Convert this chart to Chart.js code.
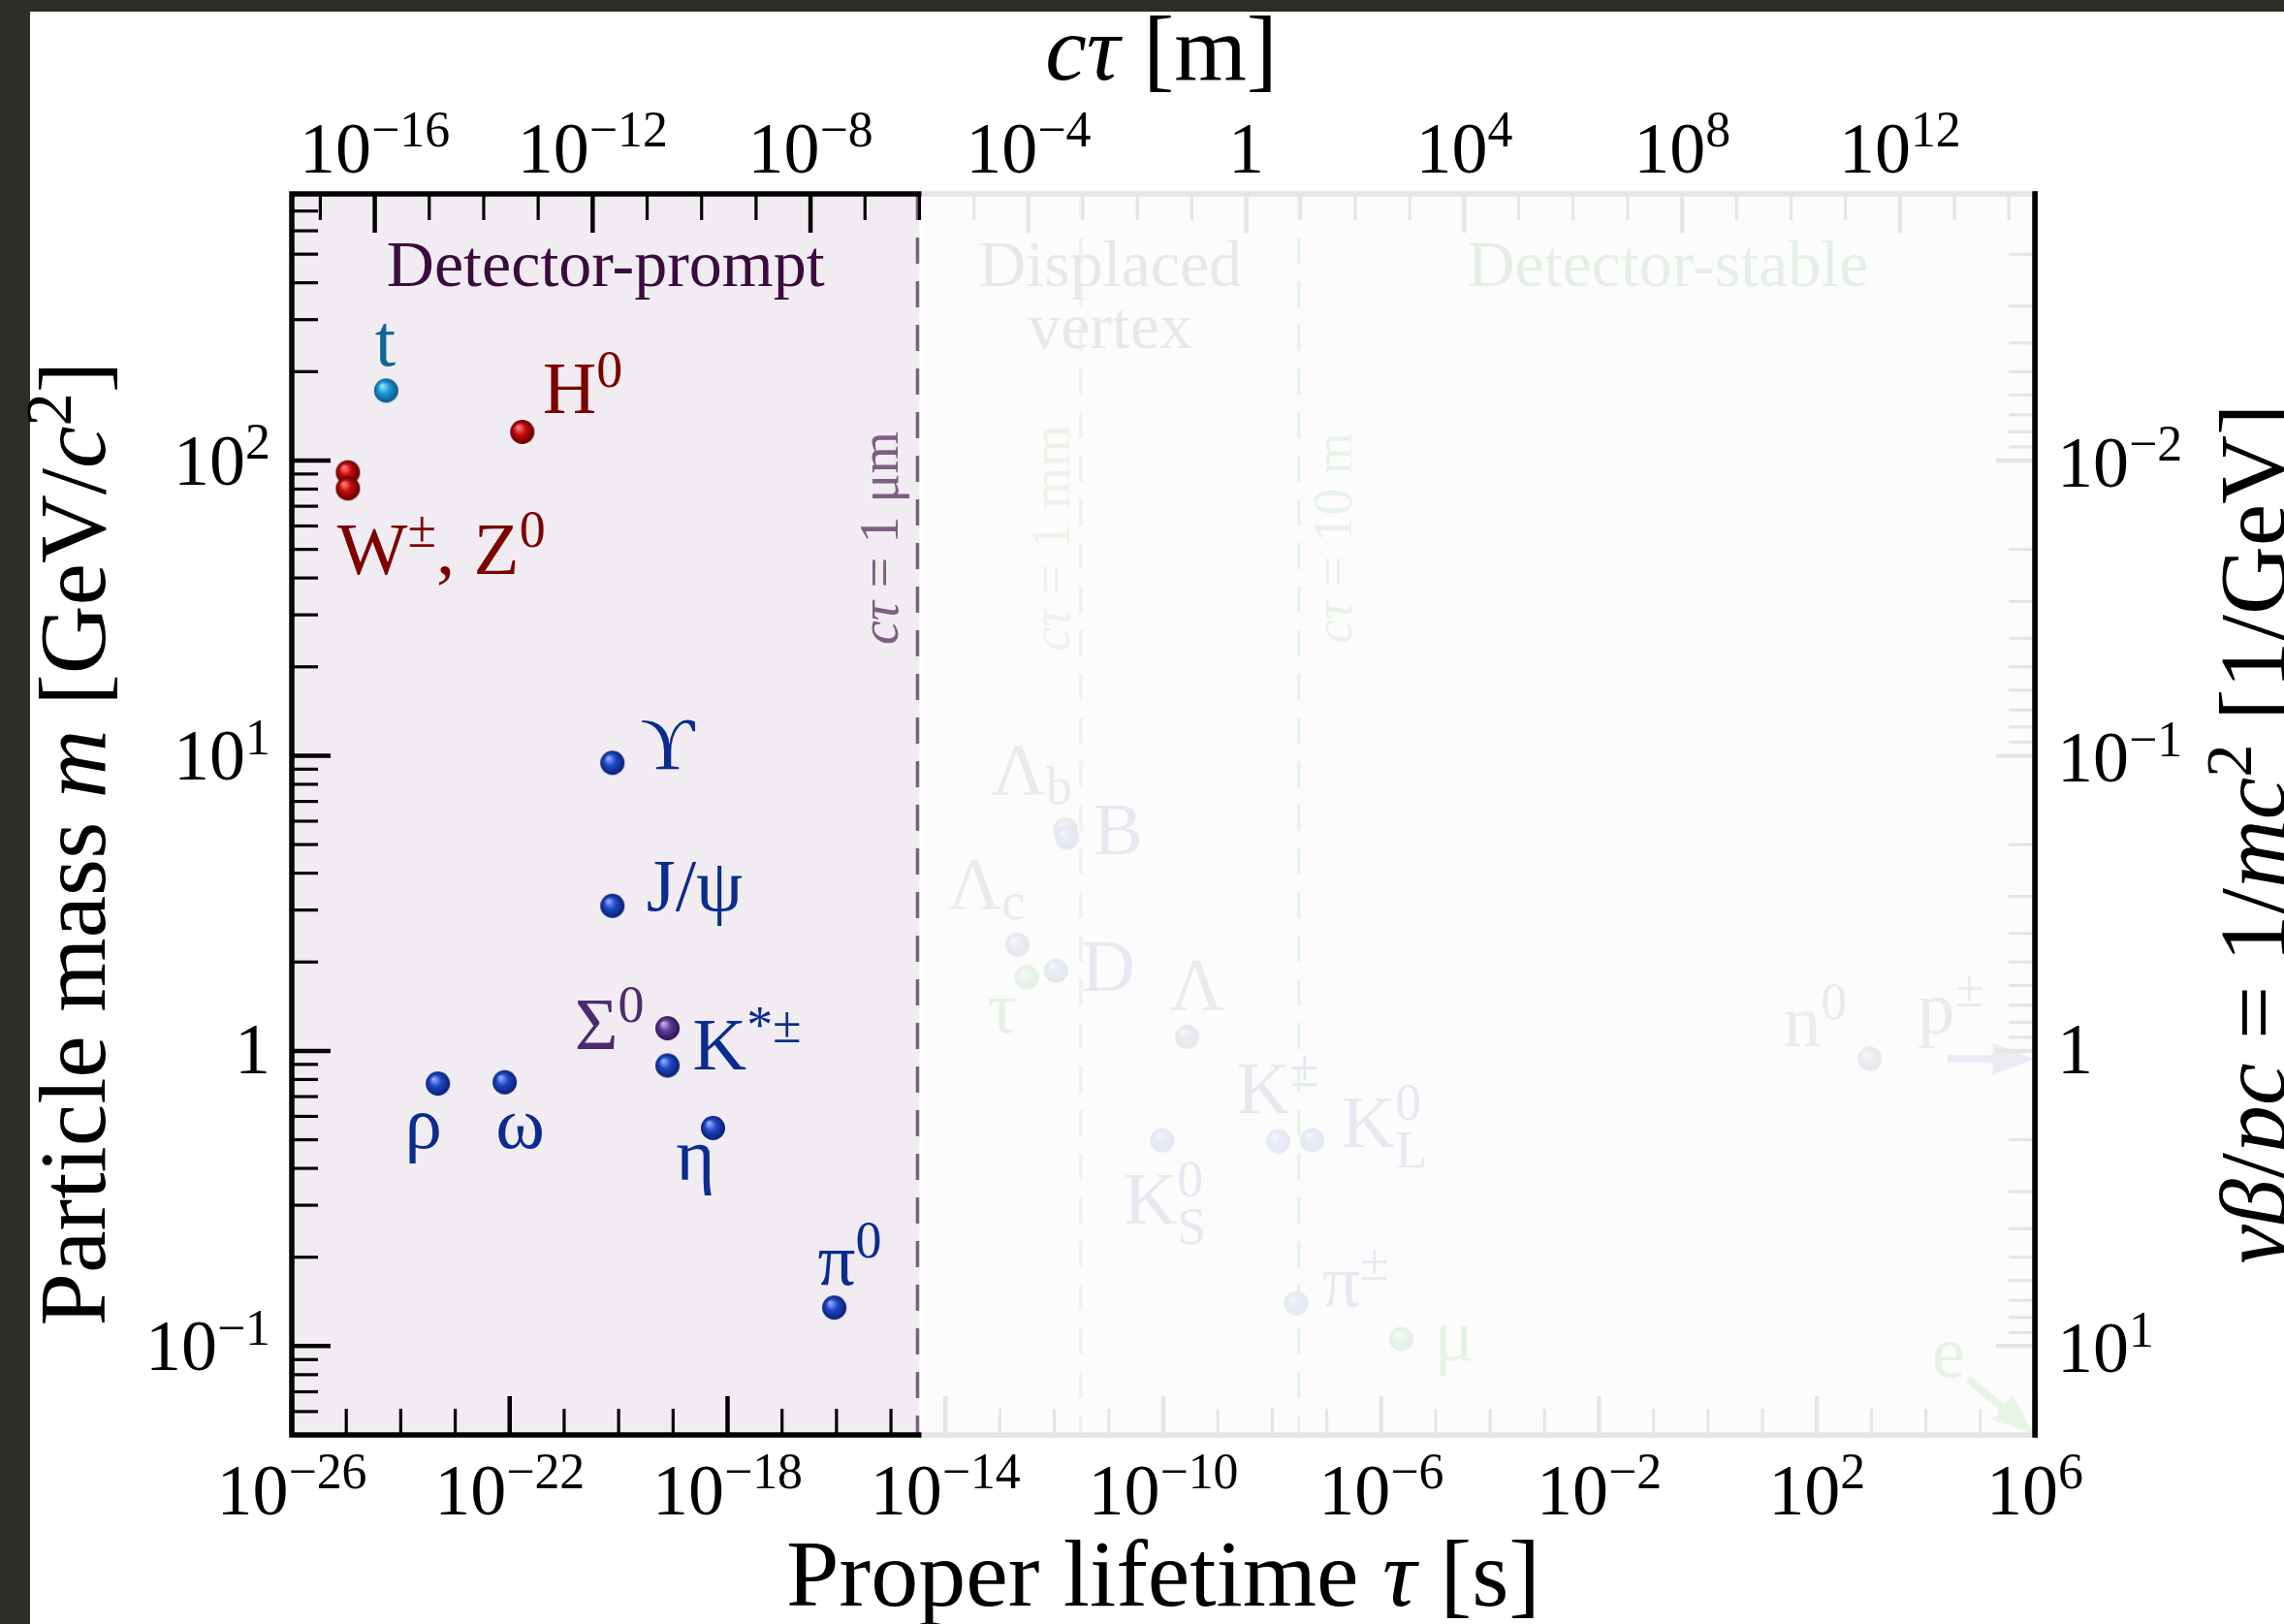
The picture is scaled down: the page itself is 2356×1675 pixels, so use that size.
<!DOCTYPE html>
<html>
<head>
<meta charset="utf-8">
<script src="https://cdn.jsdelivr.net/npm/chart.js@4/dist/chart.umd.min.js"></script>
<style>
  html, body { margin: 0; padding: 0; background: #fff; overflow: hidden; }
  #wrap { position: relative; width: 2356px; height: 1675px; }
</style>
</head>
<body>
<div id="wrap"><canvas id="lifetimes"></canvas></div>
<script>
const C = 299792458; // speed of light, m/s

// unstable particles: proper lifetime [s] and mass [GeV/c^2]
const labels = ['Z^0', 'W^±', 't', 'H^0',
  'ϒ', 'J/ψ', 'Σ^0', 'K^{*±}', 'ρ', 'ω', 'η', 'π^0',
  'Λ_b', 'B', 'Λ_c', 'D', 'τ', 'Λ', 'K^0_S', 'K^±', 'K^0_L', 'π^±', 'μ', 'n^0'];
const lifetimes = [1.07e-25, 1.07e-25, 5.4e-25, 1.7e-22,
  7.7e-21, 7.7e-21, 7.9e-20, 7.9e-20, 4.8e-24, 8.1e-23, 5.4e-19, 9.1e-17,
  1.6e-12, 1.7e-12, 2.1e-13, 1.07e-12, 3.1e-13, 2.75e-10, 9.5e-11, 1.28e-8, 5.4e-8, 2.75e-8, 2.34e-6, 930];
const masses = [91.2, 80.4, 172.5, 125,
  9.46, 3.10, 1.193, 0.892, 0.775, 0.783, 0.548, 0.135,
  5.62, 5.28, 2.29, 1.87, 1.777, 1.116, 0.498, 0.494, 0.498, 0.1396, 0.1057, 0.9396];
const families = ['boson', 'boson', 'top', 'boson',
  'meson', 'meson', 'baryon', 'meson', 'meson', 'meson', 'meson', 'meson',
  'baryon', 'meson', 'baryon', 'meson', 'lepton', 'baryon', 'meson', 'meson', 'meson', 'meson', 'lepton', 'baryon'];

// stable particles, shown as arrows leaving the plot
const stableLabels = ['p^±', 'e'];
const stableMasses = [0.938, 0.000511];
const stableFamilies = ['baryon', 'lepton'];

// decay-length markers cτ [m] and the three detector regions
const decayLengths = [1e-6, 1e-3, 10];
const decayLengthLabels = ['$cτ$ = 1 μm', '$cτ$ = 1 mm', '$cτ$ = 10 m'];
const regionNames = ['Detector-prompt', 'Displaced\nvertex', 'Detector-stable'];
const regionEdges = [1e-6, 10];

// axis ranges and labelled decades
const tauRange = [1e-26, 1e6];
const massRange = [0.05, 800];
const tauTickExp = [-26, -22, -18, -14, -10, -6, -2, 2, 6];
const ctauTickExp = [-16, -12, -8, -4, 0, 4, 8, 12];
const massTickExp = [-1, 0, 1, 2];
const invMassTickExp = [-2, -1, 0, 1];

const FONT = '"Liberation Serif", "DejaVu Serif", serif';

const familyStyle = {
  boson:  { sphere: ['#ff8a8a', '#c80a0a', '#5e0000'], text: '#7d0000' },
  top:    { sphere: ['#a6e2ff', '#1c98d8', '#0a5688'], text: '#0f6797' },
  meson:  { sphere: ['#93afff', '#1f48c8', '#0a1e6e'], text: '#0b2c8e' },
  baryon: { sphere: ['#c2b0e6', '#5e3c98', '#2a1450'], text: '#4b2b70' },
  lepton: { sphere: ['#b4eeb4', '#2ea62e', '#0e5e0e'], text: '#1a8c1a' }
};
const regionColors = ['#3b0b3f', '#3b0b3f', '#0a6e0a'];
const decayLineColors = ['#7d5f82', '#a2702e', '#1f9a1f'];

// label offsets from the marker centre (px)
const labelPlacement = {
  'Z^0': null,
  'W^±': { text: 'W^±, Z^0', dx: -11, dy: 88, align: 'left' },
  't': { dx: -1, dy: -26, align: 'center' },
  'H^0': { dx: 21, dy: -19, align: 'left' },
  'ϒ': { dx: 29, dy: 6, align: 'left' },
  'J/ψ': { dx: 35, dy: 5, align: 'left' },
  'Σ^0': { dx: -24, dy: 21, align: 'right' },
  'K^{*±}': { dx: 26, dy: 4, align: 'left' },
  'ρ': { dx: -15, dy: 66, align: 'center' },
  'ω': { dx: 16, dy: 68, align: 'center' },
  'η': { dx: -18, dy: 54, align: 'center' },
  'π^0': { dx: -17, dy: -24, align: 'left' },
  'Λ_b': { dx: -76, dy: -37, align: 'left' },
  'B': { dx: 27, dy: 17, align: 'left' },
  'Λ_c': { dx: -72, dy: -37, align: 'left' },
  'D': { dx: 26, dy: 21, align: 'left' },
  'τ': { dx: -25, dy: 57, align: 'center' },
  'Λ': { dx: 10, dy: -28, align: 'center' },
  'K^0_S': { dx: -40, dy: 86, align: 'left' },
  'K^±': { dx: -43, dy: -29, align: 'left' },
  'K^0_L': { dx: 30, dy: 7, align: 'left' },
  'π^±': { dx: 27, dy: 3, align: 'left' },
  'μ': { dx: 34, dy: 22, align: 'left' },
  'n^0': { dx: -89, dy: -13, align: 'left' }
};

// shaded ball used as point style
function sphere(cols, r) {
  const cv = document.createElement('canvas');
  const s = Math.ceil(2 * r + 2);
  cv.width = cv.height = s;
  const g = cv.getContext('2d');
  const c = s / 2;
  const grad = g.createRadialGradient(c - 0.35 * r, c - 0.4 * r, 0.05 * r, c, c, r);
  grad.addColorStop(0, cols[0]);
  grad.addColorStop(0.45, cols[1]);
  grad.addColorStop(1, cols[2]);
  g.fillStyle = grad;
  g.beginPath();
  g.arc(c, c, r, 0, Math.PI * 2);
  g.fill();
  return cv;
}

// tiny markup: ^x / ^{..} superscript, _x subscript, $..$ italic
function parseRich(str) {
  const segs = [];
  let it = false, buf = '', i = 0;
  const flush = () => { if (buf) segs.push({ t: buf, mode: 'n', it }); buf = ''; };
  while (i < str.length) {
    const ch = str[i];
    if (ch === '$') { flush(); it = !it; i++; continue; }
    if (ch === '^' || ch === '_') {
      flush();
      let t;
      if (str[i + 1] === '{') { const j = str.indexOf('}', i); t = str.slice(i + 2, j); i = j + 1; }
      else { t = str[i + 1]; i += 2; }
      segs.push({ t, mode: ch === '^' ? 'sup' : 'sub', it });
      continue;
    }
    buf += ch; i++;
  }
  flush();
  return segs;
}

function drawRich(ctx, str, x, y, size, align, color) {
  const items = [];
  let pen = 0, supStart = 0, prev = null;
  for (const s of parseRich(str)) {
    const fs = s.mode === 'n' ? size : size * 0.7;
    const font = (s.it ? 'italic ' : '') + fs + 'px ' + FONT;
    ctx.font = font;
    const w = ctx.measureText(s.t).width;
    let sx = pen, dy = 0;
    if (s.mode === 'sup') { supStart = pen; dy = -0.36 * size; }
    else if (s.mode === 'sub') {
      if (prev === 'sup') { sx = supStart; dy = 0.27 * size; } else dy = 0.14 * size;
    }
    items.push({ t: s.t, font, x: sx, dy });
    pen = Math.max(pen, sx + w);
    prev = s.mode;
  }
  const off = align === 'left' ? 0 : align === 'center' ? -pen / 2 : -pen;
  ctx.fillStyle = color;
  ctx.textAlign = 'left';
  ctx.textBaseline = 'alphabetic';
  for (const it of items) {
    ctx.font = it.font;
    ctx.fillText(it.t, x + off + it.x, y + it.dy);
  }
  return pen;
}

function powLabel(e) {
  return e === 0 ? '1' : '10^{' + (e < 0 ? '−' + (-e) : e) + '}';
}

function line(ctx, x1, y1, x2, y2, w, color) {
  ctx.strokeStyle = color;
  ctx.lineWidth = w;
  ctx.beginPath();
  ctx.moveTo(x1, y1);
  ctx.lineTo(x2, y2);
  ctx.stroke();
}

function arrow(ctx, x1, y1, x2, y2, color) {
  const a = Math.atan2(y2 - y1, x2 - x1);
  const len = Math.hypot(x2 - x1, y2 - y1);
  const head = 44, half = 17, shaft = 4;
  ctx.save();
  ctx.translate(x1, y1);
  ctx.rotate(a);
  ctx.fillStyle = color;
  ctx.beginPath();
  ctx.moveTo(0, -shaft);
  ctx.lineTo(len - head, -shaft);
  ctx.quadraticCurveTo(len - head * 0.9, -half * 0.6, len - head, -half);
  ctx.lineTo(len, 0);
  ctx.lineTo(len - head, half);
  ctx.quadraticCurveTo(len - head * 0.9, half * 0.6, len - head, shaft);
  ctx.lineTo(0, shaft);
  ctx.closePath();
  ctx.fill();
  ctx.restore();
}

// decade ticks k*10^e inside [lo, hi]
function logTicks(lo, hi, minorPerDecade) {
  const out = [];
  for (let e = Math.floor(Math.log10(lo)); e <= Math.ceil(Math.log10(hi)); e++) {
    const ks = minorPerDecade ? [1, 2, 3, 4, 5, 6, 7, 8, 9] : [1];
    for (const k of ks) {
      const v = k * Math.pow(10, e);
      if (v >= lo * 0.999 && v <= hi * 1.001) out.push({ v, e, major: k === 1 });
    }
  }
  return out;
}

const decorations = {
  id: 'decorations',
  beforeDraw(chart) {
    const ctx = chart.ctx;
    ctx.save();
    ctx.fillStyle = '#2f2d28';
    ctx.fillRect(0, 0, chart.width, 12);
    ctx.fillRect(0, 0, 31, chart.height);
    ctx.restore();
  },
  beforeDatasetsDraw(chart) {
    const { ctx, chartArea: a } = chart;
    const cs = chart.scales.ctau;
    ctx.save();
    // prompt region shading
    const xPrompt = cs.getPixelForValue(regionEdges[0]);
    ctx.fillStyle = '#f0ecf1';
    ctx.fillRect(a.left, a.top, xPrompt - a.left, a.bottom - a.top);

    // decay-length markers
    decayLengths.forEach((d, i) => {
      const x = cs.getPixelForValue(d);
      ctx.setLineDash([27, 18]);
      line(ctx, x - 2, a.top, x - 2, a.bottom, 3.5, decayLineColors[i]);
      ctx.setLineDash([]);
      const bx = [-22, -14, 52][i];
      ctx.save();
      ctx.translate(x + bx, a.top + 355);
      ctx.rotate(-Math.PI / 2);
      drawRich(ctx, decayLengthLabels[i], 0, 0, 56, 'center', decayLineColors[i]);
      ctx.restore();
    });

    // region names
    const edges = [a.left, ...regionEdges.map(v => cs.getPixelForValue(v)), a.right];
    regionNames.forEach((name, i) => {
      const cx = (edges[i] + edges[i + 1]) / 2;
      name.split('\n').forEach((ln, k) => {
        drawRich(ctx, ln, cx, a.top + 95 + k * 64, 68, 'center', regionColors[i]);
      });
    });
    ctx.restore();
  },
  afterDatasetsDraw(chart) {
    const { ctx, chartArea: a } = chart;
    const xs = chart.scales.x, ys = chart.scales.y, cs = chart.scales.ctau, is = chart.scales.invm;
    ctx.save();

    // particle labels
    chart.data.datasets.forEach((ds, di) => {
      const meta = chart.getDatasetMeta(di);
      ds.data.forEach((p, j) => {
        const pl = labelPlacement[p.name];
        if (!pl) return;
        const el = meta.data[j];
        drawRich(ctx, pl.text || p.name, el.x + pl.dx, el.y + pl.dy, 77, pl.align, familyStyle[ds.family].text);
      });
    });

    // stable particles
    const yp = ys.getPixelForValue(stableMasses[0]);
    arrow(ctx, a.right - 90, yp, a.right - 1, yp, familyStyle[stableFamilies[0]].sphere[1]);
    drawRich(ctx, stableLabels[0], a.right - 121, yp - 27, 77, 'left', familyStyle[stableFamilies[0]].text);
    const ye = ys.getPixelForValue(Math.max(stableMasses[1], massRange[0]));
    arrow(ctx, a.right - 69, ye - 58, a.right - 1, ye - 1, familyStyle[stableFamilies[1]].sphere[1]);
    drawRich(ctx, stableLabels[1], a.right - 106, ye - 60, 77, 'left', familyStyle[stableFamilies[1]].text);

    // inward ticks
    const tick = (maj) => maj ? [40, 4.5] : [27, 3.2];
    logTicks(tauRange[0], tauRange[1], false).forEach(t => {
      const x = xs.getPixelForValue(t.v), [l, w] = tick(tauTickExp.includes(t.e));
      line(ctx, x, a.bottom, x, a.bottom - l, w, '#000');
    });
    logTicks(C * tauRange[0], C * tauRange[1], false).forEach(t => {
      const x = cs.getPixelForValue(t.v), [l, w] = tick(ctauTickExp.includes(t.e));
      line(ctx, x, a.top, x, a.top + l, w, '#000');
    });
    logTicks(massRange[0], massRange[1], true).forEach(t => {
      const y = ys.getPixelForValue(t.v), [l, w] = tick(t.major);
      line(ctx, a.left, y, a.left + l, y, w, '#000');
    });
    logTicks(1 / massRange[1], 1 / massRange[0], true).forEach(t => {
      const y = is.getPixelForValue(t.v), [l, w] = tick(t.major);
      line(ctx, a.right, y, a.right - l, y, w, '#000');
    });

    // frame
    ctx.strokeStyle = '#000';
    ctx.lineWidth = 5.5;
    ctx.strokeRect(a.left, a.top, a.right - a.left, a.bottom - a.top);
    ctx.restore();
  },
  afterDraw(chart) {
    const { ctx, chartArea: a } = chart;
    const xs = chart.scales.x, ys = chart.scales.y, cs = chart.scales.ctau, is = chart.scales.invm;
    ctx.save();

    // everything beyond cτ = 1 μm is washed out
    const xPrompt = cs.getPixelForValue(regionEdges[0]) + 2;
    ctx.fillStyle = 'rgba(252,252,252,0.91)';
    ctx.fillRect(xPrompt, a.top - 4, a.right - xPrompt, a.bottom - a.top + 8);
    line(ctx, a.right, a.top - 2.75, a.right, a.bottom + 2.75, 5.5, '#000');

    // tick labels
    tauTickExp.forEach(e => drawRich(ctx, powLabel(e), xs.getPixelForValue(Math.pow(10, e)), a.bottom + 82, 74, 'center', '#000'));
    ctauTickExp.forEach(e => drawRich(ctx, powLabel(e), cs.getPixelForValue(Math.pow(10, e)), a.top - 22, 74, 'center', '#000'));
    massTickExp.forEach(e => drawRich(ctx, powLabel(e), a.left - 22, ys.getPixelForValue(Math.pow(10, e)) + (e === 0 ? 23 : 25), 74, 'right', '#000'));
    invMassTickExp.forEach(e => drawRich(ctx, powLabel(e), a.right + 23, is.getPixelForValue(Math.pow(10, e)) + (e === 0 ? 23 : 27), 74, 'left', '#000'));

    // axis titles
    const cx = (a.left + a.right) / 2;
    drawRich(ctx, 'Proper lifetime $τ$ [s]', cx, 1656, 98, 'center', '#000');
    drawRich(ctx, '$cτ$ [m]', cx - 2, 82, 96, 'center', '#000');
    ctx.save();
    ctx.translate(108, 870);
    ctx.rotate(-Math.PI / 2);
    drawRich(ctx, 'Particle mass $m$ [GeV/$c$^2]', 0, 0, 98, 'center', '#000');
    ctx.restore();
    ctx.save();
    ctx.translate(2357, 860);
    ctx.rotate(-Math.PI / 2);
    drawRich(ctx, '$γβ$/$pc$ = 1/$mc$^2 [1/GeV]', 0, 0, 98, 'center', '#000');
    ctx.restore();
    ctx.restore();
  }
};

const familyOrder = ['meson', 'baryon', 'boson', 'top', 'lepton'];
const datasets = familyOrder.map((fam, k) => {
  const idx = labels.map((_, i) => i).filter(i => families[i] === fam);
  return {
    label: fam,
    family: fam,
    data: idx.map(i => ({ x: lifetimes[i], y: masses[i], name: labels[i] })),
    pointStyle: sphere(familyStyle[fam].sphere, 12.5),
    pointRadius: 12.5,
    order: k
  };
});

new Chart(document.getElementById('lifetimes'), {
  type: 'scatter',
  data: { datasets },
  options: {
    responsive: true,
    maintainAspectRatio: false,
    animation: false,
    layout: { padding: { left: 301, right: 257, top: 200, bottom: 195 } },
    plugins: { legend: { display: false }, tooltip: { enabled: false } },
    scales: {
      x: { type: 'logarithmic', min: tauRange[0], max: tauRange[1], display: false },
      y: { type: 'logarithmic', min: massRange[0], max: massRange[1], display: false },
      ctau: { type: 'logarithmic', axis: 'x', position: 'top', min: C * tauRange[0], max: C * tauRange[1], display: false },
      invm: { type: 'logarithmic', axis: 'y', position: 'right', reverse: true, min: 1 / massRange[1], max: 1 / massRange[0], display: false }
    }
  },
  plugins: [decorations]
});
</script>
</body>
</html>
